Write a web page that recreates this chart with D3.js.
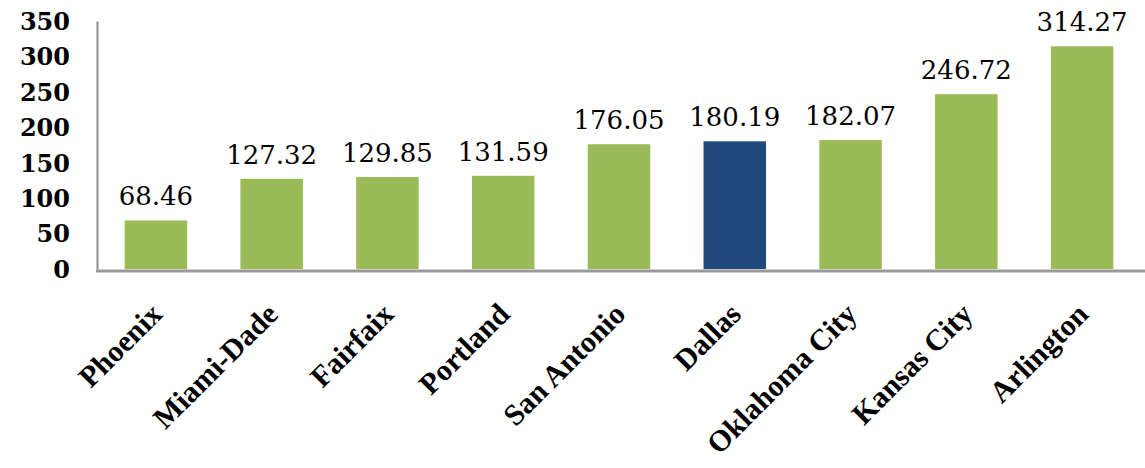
<!DOCTYPE html>
<html>
<head>
<meta charset="utf-8">
<script src="https://cdn.jsdelivr.net/npm/d3@7"></script>
<style>
  html, body { margin: 0; padding: 0; background: #fff; }
  svg { display: block; }
</style>
</head>
<body>
<svg id="chart" width="1145" height="468"></svg>
<script>
// Cost per unit by city
const cities = ["Phoenix", "Miami-Dade", "Fairfaix", "Portland", "San Antonio", "Dallas", "Oklahoma City", "Kansas City", "Arlington"];
const values = [68.46, 127.32, 129.85, 131.59, 176.05, 180.19, 182.07, 246.72, 314.27];
const highlight = ["Dallas"];
const yTicks = [0, 50, 100, 150, 200, 250, 300, 350];

const svg = d3.select("#chart");
const plotLeft = 98, plotRight = 1140, plotTop = 21, plotBottom = 269;

const x = d3.scaleBand().domain(cities).range([plotLeft, plotRight]).paddingInner(0.46).paddingOuter(0.23);
const y = d3.scaleLinear().domain([0, 350]).range([plotBottom, plotTop]);

const serif = "'Liberation Serif', 'DejaVu Serif', serif";

// bars
svg.append("g").selectAll("rect")
  .data(cities)
  .join("rect")
  .attr("x", d => x(d))
  .attr("width", x.bandwidth())
  .attr("y", (d, i) => y(values[i]))
  .attr("height", (d, i) => y(0) - y(values[i]))
  .attr("fill", d => highlight.includes(d) ? "#1F497D" : "#9BBB59");

// value labels
svg.append("g").selectAll("text")
  .data(cities)
  .join("text")
  .attr("x", d => x(d) + x.bandwidth() / 2)
  .attr("y", (d, i) => y(values[i]) - 15)
  .attr("text-anchor", "middle")
  .attr("font-family", "'DejaVu Serif', serif")
  .attr("font-size", 26)
  .attr("fill", "#000")
  .text((d, i) => values[i].toFixed(2));

// y axis
const yAxis = svg.append("g")
  .attr("transform", `translate(${plotLeft - 1},0)`)
  .call(d3.axisLeft(y).tickValues(yTicks).tickSize(0).tickPadding(27).tickFormat(d3.format("d")));
yAxis.select(".domain").attr("stroke", "#8c8c8c").attr("stroke-width", 2);
yAxis.selectAll("text")
  .attr("font-family", "'DejaVu Serif', serif")
  .attr("font-weight", "bold")
  .attr("font-size", 24)
  .attr("fill", "#000")
  .attr("dy", "0.35em");

// x axis
const xAxis = svg.append("g")
  .attr("transform", `translate(0,${plotBottom + 2})`)
  .call(d3.axisBottom(x).tickSize(0).tickPadding(0));
xAxis.select(".domain").attr("stroke", "#999").attr("stroke-width", 3)
  .attr("d", `M${plotLeft - 2},0H${plotRight + 5}`);
xAxis.selectAll(".tick text")
  .attr("font-family", serif)
  .attr("font-weight", "bold")
  .attr("font-size", 30)
  .attr("fill", "#000")
  .attr("text-anchor", "end")
  .attr("dy", 0)
  .attr("y", 0)
  .attr("transform", "translate(8,45) rotate(-45)");
</script>
</body>
</html>
